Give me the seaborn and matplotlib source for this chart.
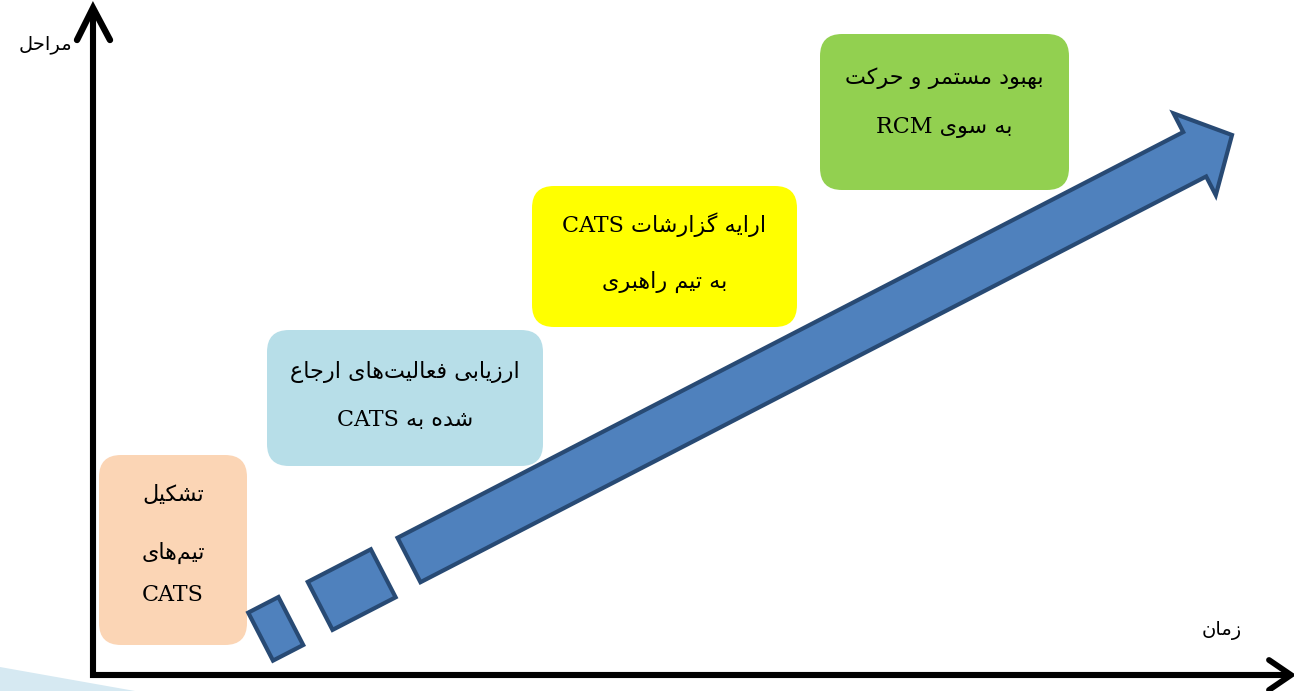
import numpy as np
import matplotlib
matplotlib.use("Agg")
import matplotlib.pyplot as plt
from matplotlib.patches import FancyBboxPatch, Polygon
import seaborn as sns

# ---------------- data ----------------
y_label = "مراحل"
x_label = "زمان"
stage_texts = [
    ["تشکیل", "تیم\u200cهای", "CATS"],
    ["ارزیابی فعالیت\u200cهای ارجاع", "شده به CATS"],
    ["ارایه گزارشات CATS", "به تیم راهبری"],
    ["بهبود مستمر و حرکت", "به سوی RCM"],
]
stage_colors = ["#fbd5b5", "#b7dee8", "#ffff00", "#92d050"]

# ---------------- layout (pixel space) ----------------
W, H = 1294, 691
box_x = [99, 267, 532, 820]
box_y = [455, 330, 186, 34]
box_w = [148, 276, 265, 249]
box_h = [190, 136, 141, 156]
line_y = [[495, 553, 595], [372, 420], [225, 282], [78, 127]]

arrow_start = np.array([409.0, 560.0])
arrow_tip = np.array([1232.0, 135.0])
dash_segments = [(-167, -133, 54), (-100, -29, 54)]  # along-start, along-end, width
shaft_w, head_len, head_hw = 50, 42, 46

# ---------------- minimal Arabic/Persian shaping ----------------
FORMS = {
    '\u0627': (0xFE8D, 0xFE8E, None, None),
    '\u0622': (0xFE81, 0xFE82, None, None),
    '\u0628': (0xFE8F, 0xFE90, 0xFE91, 0xFE92),
    '\u067E': (0xFB56, 0xFB57, 0xFB58, 0xFB59),
    '\u062A': (0xFE95, 0xFE96, 0xFE97, 0xFE98),
    '\u062B': (0xFE99, 0xFE9A, 0xFE9B, 0xFE9C),
    '\u062C': (0xFE9D, 0xFE9E, 0xFE9F, 0xFEA0),
    '\u0686': (0xFB7A, 0xFB7B, 0xFB7C, 0xFB7D),
    '\u062D': (0xFEA1, 0xFEA2, 0xFEA3, 0xFEA4),
    '\u062E': (0xFEA5, 0xFEA6, 0xFEA7, 0xFEA8),
    '\u062F': (0xFEA9, 0xFEAA, None, None),
    '\u0630': (0xFEAB, 0xFEAC, None, None),
    '\u0631': (0xFEAD, 0xFEAE, None, None),
    '\u0632': (0xFEAF, 0xFEB0, None, None),
    '\u0698': (0xFB8A, 0xFB8B, None, None),
    '\u0633': (0xFEB1, 0xFEB2, 0xFEB3, 0xFEB4),
    '\u0634': (0xFEB5, 0xFEB6, 0xFEB7, 0xFEB8),
    '\u0635': (0xFEB9, 0xFEBA, 0xFEBB, 0xFEBC),
    '\u0636': (0xFEBD, 0xFEBE, 0xFEBF, 0xFEC0),
    '\u0637': (0xFEC1, 0xFEC2, 0xFEC3, 0xFEC4),
    '\u0638': (0xFEC5, 0xFEC6, 0xFEC7, 0xFEC8),
    '\u0639': (0xFEC9, 0xFECA, 0xFECB, 0xFECC),
    '\u063A': (0xFECD, 0xFECE, 0xFECF, 0xFED0),
    '\u0641': (0xFED1, 0xFED2, 0xFED3, 0xFED4),
    '\u0642': (0xFED5, 0xFED6, 0xFED7, 0xFED8),
    '\u06A9': (0xFB8E, 0xFB8F, 0xFB90, 0xFB91),
    '\u06AF': (0xFB92, 0xFB93, 0xFB94, 0xFB95),
    '\u0644': (0xFEDD, 0xFEDE, 0xFEDF, 0xFEE0),
    '\u0645': (0xFEE1, 0xFEE2, 0xFEE3, 0xFEE4),
    '\u0646': (0xFEE5, 0xFEE6, 0xFEE7, 0xFEE8),
    '\u0647': (0xFEE9, 0xFEEA, 0xFEEB, 0xFEEC),
    '\u0648': (0xFEED, 0xFEEE, None, None),
    '\u06CC': (0xFBFC, 0xFBFD, 0xFBFE, 0xFBFF),
}


def shape_word(w):
    out = []
    for i, c in enumerate(w):
        if c == '\u200c':
            continue
        if c not in FORMS:
            out.append(c)
            continue
        prev = w[i - 1] if i > 0 else None
        nxt = w[i + 1] if i + 1 < len(w) else None
        jp = prev in FORMS and FORMS[prev][2] is not None
        jn = FORMS[c][2] is not None and nxt in FORMS
        iso, fin, ini, med = FORMS[c]
        g = med if (jp and jn) else fin if jp else ini if jn else iso
        out.append(chr(g))
    return ''.join(reversed(out))


def visual(line):
    words = line.split(' ')
    res = []
    for w in reversed(words):
        res.append(shape_word(w) if any(ch in FORMS for ch in w) else w)
    return ' '.join(res)


# ---------------- figure ----------------
sns.set_theme(style="white")
plt.rcParams['font.family'] = ['DejaVu Serif', 'DejaVu Sans']
fig = plt.figure(figsize=(W / 100, H / 100), dpi=100)
ax = fig.add_axes([0, 0, 1, 1])
ax.set_xlim(0, W)
ax.set_ylim(H, 0)
ax.set_axis_off()

# light blue swoosh bottom-left
ax.add_patch(Polygon([(0, 667), (135, H), (0, H)], closed=True,
                     facecolor="#d6e9f2", edgecolor="none", zorder=0))

# stage boxes
for i, lines in enumerate(stage_texts):
    ax.add_patch(FancyBboxPatch((box_x[i], box_y[i]), box_w[i], box_h[i],
                                boxstyle="round,pad=0,rounding_size=22",
                                facecolor=stage_colors[i], edgecolor="none", zorder=1))
    cx = box_x[i] + box_w[i] / 2
    for ln, yy in zip(lines, line_y[i]):
        ax.text(cx, yy, visual(ln), ha="center", va="center", fontsize=16,
                color="#000000", zorder=3)

# arrow geometry
d = arrow_tip - arrow_start
L = np.hypot(*d)
u = d / L
n = np.array([-u[1], u[0]])


def pt(a, p):
    return arrow_start + a * u + p * n


blue, edge = "#4f81bd", "#284a74"
for a0, a1, w in dash_segments:
    poly = [pt(a0, -w / 2), pt(a1, -w / 2), pt(a1, w / 2), pt(a0, w / 2)]
    ax.add_patch(Polygon(poly, closed=True, facecolor=blue, edgecolor=edge,
                         linewidth=3.0, joinstyle="miter", zorder=2))
main = [pt(0, -shaft_w / 2), pt(L - head_len, -shaft_w / 2), pt(L - head_len, -head_hw),
        pt(L, 0), pt(L - head_len, head_hw), pt(L - head_len, shaft_w / 2), pt(0, shaft_w / 2)]
ax.add_patch(Polygon(main, closed=True, facecolor=blue, edgecolor=edge,
                     linewidth=3.0, joinstyle="miter", zorder=2))

# axes with open arrowheads
ax.plot([93, 93, 1290], [10, 675, 675], color="black", lw=4.4,
        solid_joinstyle="miter", solid_capstyle="butt", zorder=4)
ax.plot([77, 93, 110], [40, 8, 40], color="black", lw=4.6,
        solid_joinstyle="miter", solid_capstyle="round", zorder=4)
ax.plot([1269, 1291, 1269], [660, 675, 690], color="black", lw=4.2,
        solid_joinstyle="miter", solid_capstyle="round", zorder=4)

ax.text(72, 45, visual(y_label), ha="right", va="center", fontsize=14, color="#000000")
ax.text(1222, 630, visual(x_label), ha="center", va="center", fontsize=14, color="#000000")

fig.savefig("out.png", dpi=100, facecolor="white")
